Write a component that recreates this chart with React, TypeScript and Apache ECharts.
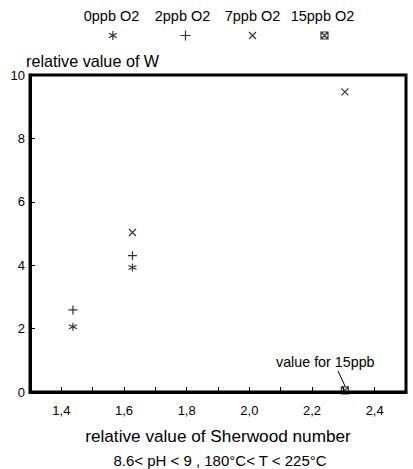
import React, { useEffect, useRef } from "react";
import * as echarts from "echarts";

// Data
const seriesNames = ["0ppb O2", "2ppb O2", "7ppb O2", "15ppb O2"];
const sherwood0 = [1.437, 1.627];
const w0 = [2.06, 3.93];
const sherwood2 = [1.437, 1.627];
const w2 = [2.59, 4.3];
const sherwood7 = [1.627, 2.305];
const w7 = [5.03, 9.47];
const sherwood15 = [2.305];
const w15 = [0.05];
const yTicks = [0, 2, 4, 6, 8, 10];

const FONT = "Liberation Sans, Arial, Helvetica, sans-serif";

const SYM_ASTERISK = "path://M5 0 L5 10 M0.7 2.5 L9.3 7.5 M0.7 7.5 L9.3 2.5";
const SYM_PLUS = "path://M5 0 L5 10 M0 5 L10 5";
const SYM_CROSS = "path://M0 0 L10 10 M10 0 L0 10";
const SYM_BOXX = "path://M0 0 L10 0 L10 10 L0 10 Z M0 0 L10 10 M10 0 L0 10";

const symbols = [SYM_ASTERISK, SYM_PLUS, SYM_CROSS, SYM_BOXX];
const symbolSizes = [8, 9, 7, 7];
const legendIconSizes = [9, 10, 7, 7];
const legendCenters = [111, 183, 250, 322];
const legendTextCenters = [111.5, 182.5, 252.5, 322.5];

const zip = (xs: number[], ys: number[]) => xs.map((x, i) => [x, ys[i]]);

export default function App() {
  const ref = useRef<HTMLDivElement>(null);
  useEffect(() => {
    if (!ref.current) return;
    const chart = echarts.init(ref.current, undefined, { renderer: "svg" });
    const datasets = [
      zip(sherwood0, w0),
      zip(sherwood2, w2),
      zip(sherwood7, w7),
      zip(sherwood15, w15),
    ];
    const markerStyle = {
      color: "none",
      borderColor: "#000",
      borderWidth: 1.2,
    };
    chart.setOption({
      animation: false,
      backgroundColor: "#fff",
      textStyle: { fontFamily: FONT, color: "#000" },
      grid: {
        left: 30,
        top: 75,
        right: 7,
        bottom: 77,
        show: true,
        borderColor: "#000",
        borderWidth: 3,
        backgroundColor: "transparent",
      },
      legend: seriesNames.map((n, i) => ({
        data: [{ name: n, icon: symbols[i] }],
        left: legendCenters[i] - legendIconSizes[i] / 2,
        top: 33 - legendIconSizes[i] / 2,
        padding: 0,
        itemWidth: legendIconSizes[i],
        itemHeight: legendIconSizes[i],
        itemGap: 0,
        selectedMode: false,
        formatter: () => "",
        itemStyle: markerStyle,
        textStyle: { fontSize: 1 },
      })),
      xAxis: {
        type: "value",
        min: 1.3,
        max: 2.5,
        interval: 0.1,
        name: "relative value of Sherwood number",
        nameLocation: "middle",
        nameGap: 35,
        nameTextStyle: { fontSize: 17.2, color: "#000", fontFamily: FONT },
        axisLine: { show: true, lineStyle: { color: "#000", width: 3 } },
        axisTick: { show: true, inside: true, length: 5, lineStyle: { color: "#000", width: 1 } },
        splitLine: { show: false },
        axisLabel: {
          color: "#000",
          fontSize: 13,
          fontFamily: FONT,
          margin: 12,
          formatter: (v: number) => {
            const k = Math.round(v * 10);
            if (k % 2 !== 0) return "";
            return (k / 10).toFixed(1).replace(".", ",");
          },
        },
      },
      yAxis: {
        type: "value",
        min: yTicks[0],
        max: yTicks[yTicks.length - 1],
        interval: 2,
        name: "relative value of W",
        nameLocation: "end",
        nameGap: 4,
        nameTextStyle: { fontSize: 16.2, color: "#000", fontFamily: FONT, align: "left", padding: [0, 0, 0, -4] },
        axisLine: { show: true, lineStyle: { color: "#000", width: 3 } },
        axisTick: { show: true, inside: true, length: 5, lineStyle: { color: "#000", width: 1 } },
        splitLine: { show: false },
        axisLabel: { color: "#000", fontSize: 13, fontFamily: FONT, margin: 5 },
      },
      graphic: [
        ...seriesNames.map((n, i) => ({
          type: "text",
          x: legendTextCenters[i],
          y: 15.5,
          style: {
            text: n,
            font: `14.5px ${FONT}`,
            fill: "#000",
            textAlign: "center",
            textVerticalAlign: "middle",
          },
        })),
        {
          type: "text",
          x: 220,
          y: 460,
          style: {
            text: "8.6< pH < 9 , 180°C< T < 225°C",
            font: `15px ${FONT}`,
            fill: "#000",
            textAlign: "center",
            textVerticalAlign: "middle",
          },
        },
        {
          type: "text",
          x: 276,
          y: 362,
          style: {
            text: "value for 15ppb",
            font: `14.3px ${FONT}`,
            fill: "#000",
            textAlign: "left",
            textVerticalAlign: "middle",
          },
        },
        {
          type: "line",
          shape: { x1: 338, y1: 371, x2: 345, y2: 386 },
          style: { stroke: "#000", lineWidth: 1 },
        },
      ],
      series: seriesNames.map((n, i) => ({
        name: n,
        type: "scatter",
        data: datasets[i],
        symbol: symbols[i],
        symbolSize: symbolSizes[i],
        itemStyle: markerStyle,
        emphasis: { disabled: true },
      })),
    });
    return () => chart.dispose();
  }, []);
  return <div ref={ref} style={{ width: 413, height: 469, position: "absolute", left: 0, top: 0 }} />;
}
